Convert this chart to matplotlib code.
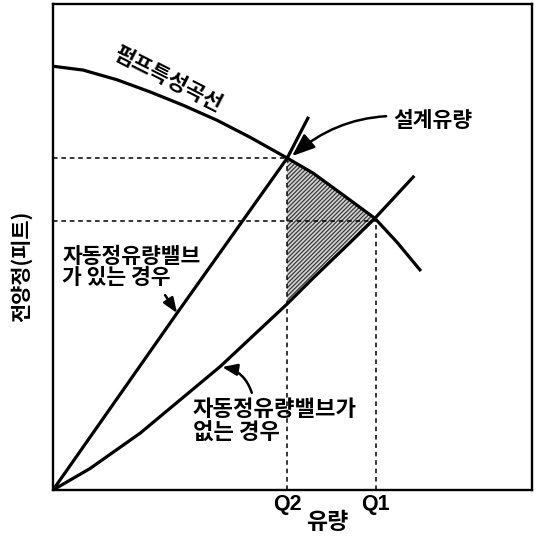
import numpy as np
import matplotlib
matplotlib.use('Agg')
import matplotlib.pyplot as plt
from matplotlib.patches import Polygon

plt.rcParams['font.family'] = ['Noto Sans CJK KR', 'DejaVu Sans']
plt.rcParams['hatch.linewidth'] = 0.9

# values (flow and head in % of axis range)
pump_q = [0, 6.3, 13.4, 20.3, 27.1, 34.2, 41.1, 48.9, 54.3, 60.3, 67.2, 71.8, 76.6]
pump_h = [87.2, 86.4, 84.4, 81.9, 79.2, 76.1, 72.6, 68.3, 65.2, 60.9, 55.9, 51.0, 45.3]

valve_q = [0, 25.9, 48.9, 53.2]
valve_h = [0, 36.4, 68.3, 76.5]

novalve_q = [0, 7.7, 18.2, 34.9, 48.9, 54.3, 62.0, 67.2, 75.2]
novalve_h = [0, 4.4, 11.7, 25.4, 38.3, 43.6, 50.9, 55.9, 64.4]

q2, h2 = 48.9, 68.3
q1, h1 = 67.4, 55.3
tick_pos = [q2, q1]
tick_labels = ['Q2', 'Q1']

W = 'black'

fig = plt.figure(figsize=(5.36, 5.39), dpi=100)
ax = fig.add_axes([53/536, 49/539, 479/536, 486/539])
ax.set_xlim(0, 100)
ax.set_ylim(0, 100)
for s in ax.spines.values():
    s.set_linewidth(1.7)

# shaded region between pump curve and system curve without valve
pq, ph = np.array(pump_q), np.array(pump_h)
nq, nh = np.array(novalve_q), np.array(novalve_h)
top = [(x, y) for x, y in zip(pq, ph) if q2 <= x <= q1]
bot = [(x, y) for x, y in zip(nq, nh) if q2 <= x <= q1][::-1]
poly = Polygon(top + bot, closed=True,
               facecolor='#d4d4d4', edgecolor='#3a3a3a', hatch='////////',
               linewidth=0, zorder=1)
ax.add_patch(poly)

# dashed guide lines
dash = dict(color='black', lw=1.1, ls=(0, (3, 2.5)), zorder=2)
ax.plot([0, q2], [h2, h2], **dash)
ax.plot([q2, q2], [0, h2], **dash)
ax.plot([0, q1], [h1, h1], **dash)
ax.plot([q1, q1], [0, h1], **dash)

ax.plot(pump_q, pump_h, color='black', lw=2.3, zorder=3)
ax.plot(valve_q, valve_h, color='black', lw=2.3, zorder=3)
ax.plot(novalve_q, novalve_h, color='black', lw=2.3, zorder=3)

ax.set_xticks(tick_pos)
ax.set_xticklabels(tick_labels, fontsize=15.5, fontweight='bold',
                   family=['Liberation Sans', 'DejaVu Sans'])
ax.tick_params(axis='x', length=0, pad=3)
ax.set_yticks([])
ax.set_xlabel('유량', fontsize=16.5, fontweight=W)
ax.xaxis.set_label_coords((327-53)/479, -(511-490)/486)
ax.set_ylabel('전양정(피트)', fontsize=15, fontweight=W)
ax.yaxis.set_label_coords(-(53-32)/479, (490-266)/486)

ax.text(24.0, 84.6, '펌프특성곡선', rotation=-27, ha='center', va='center',
        fontsize=15.5, fontweight=W)

arrow = dict(arrowstyle='-|>,head_length=0.9,head_width=0.35', color='black', lw=1.8)

ax.annotate('설계유량', xy=(49.9, 68.7), xytext=(71.0, 76.1),
            ha='left', va='center', fontsize=15.5, fontweight=W,
            arrowprops=dict(**arrow, connectionstyle='arc3,rad=0.25',
                            shrinkA=3, shrinkB=0))

ax.text(1.9, 45.8, '자동정유량밸브\n가 있는 경우', ha='left', va='center',
        fontsize=15.5, fontweight=W, linespacing=1.0)
ax.annotate('', xy=(25.9, 36.4), xytext=(23.4, 40.1),
            arrowprops=dict(**arrow, shrinkA=0, shrinkB=0))

ax.text(29.2, 14.2, '자동정유량밸브가\n없는 경우', ha='left', va='center',
        fontsize=16, fontweight=W, linespacing=1.05)
ax.annotate('', xy=(35.3, 25.3), xytext=(41.5, 20.0),
            arrowprops=dict(**arrow, connectionstyle='arc3,rad=0.3',
                            shrinkA=0, shrinkB=0))

fig.savefig('out.png', dpi=100)
